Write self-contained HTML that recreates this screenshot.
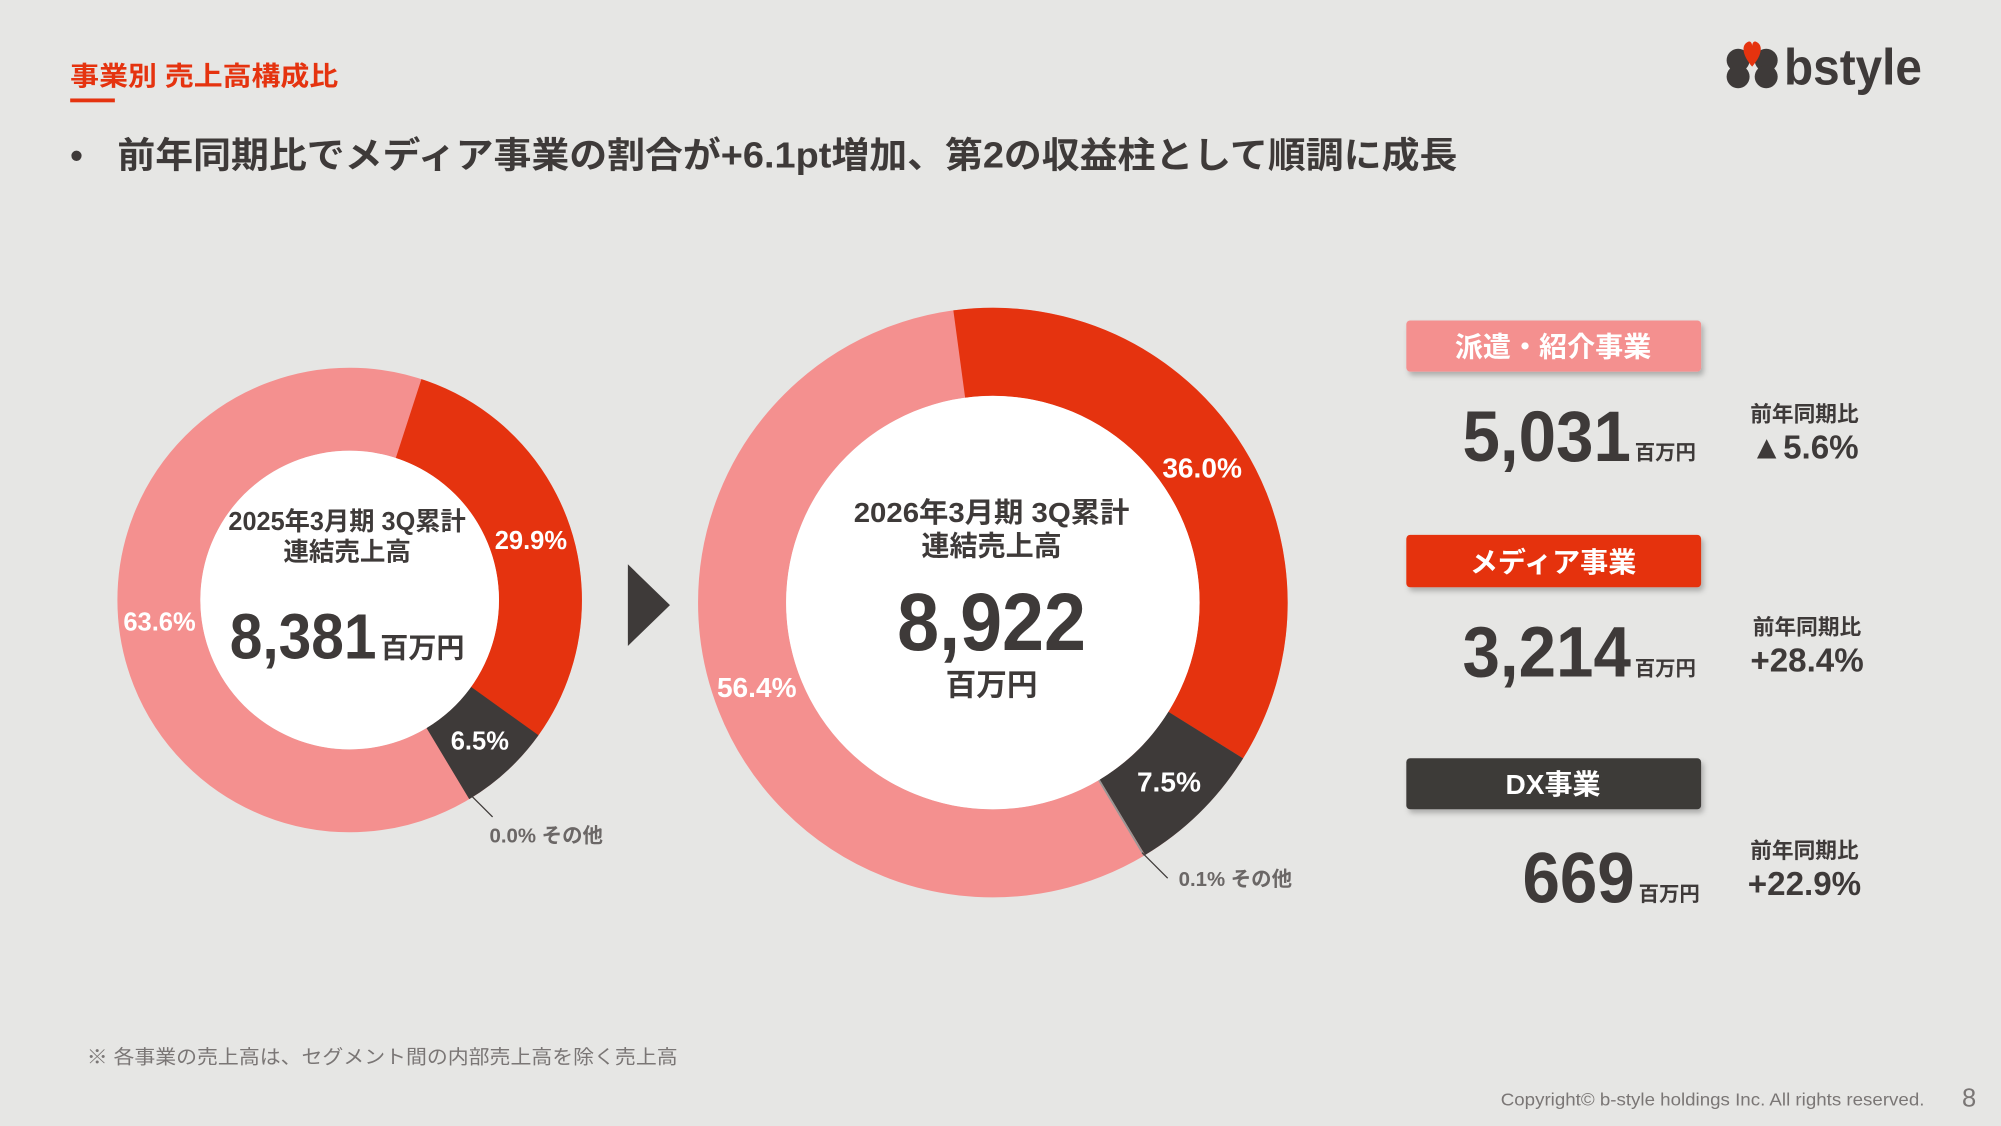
<!DOCTYPE html>
<html><head><meta charset="utf-8"><style>
html,body{margin:0;padding:0;background:#e6e6e4;}
svg{display:block;}
text{font-family:"Liberation Sans","Noto Sans CJK JP",sans-serif;}
</style></head><body>
<svg width="2001" height="1126" viewBox="0 0 1568 882" xmlns="http://www.w3.org/2000/svg">
<defs><filter id="sh" x="-5%" y="-20%" width="110%" height="150%"><feDropShadow dx="2" dy="3" stdDeviation="2" flood-color="#000" flood-opacity="0.25"/></filter></defs>
<rect width="1568" height="882" fill="#e6e6e4"/>
<text x="55" y="67" font-size="21" font-weight="bold" fill="#e5330f" textLength="210" lengthAdjust="spacingAndGlyphs">事業別 売上高構成比</text>
<rect x="55" y="77" width="35" height="3" fill="#e5330f"/>
<!-- logo -->
<g fill="#3e3a39">
<circle cx="1362" cy="47" r="9"/><circle cx="1384" cy="47" r="9"/><circle cx="1362" cy="60" r="9"/><circle cx="1384" cy="60" r="9"/>
</g>
<path d="M1373 52 C1366 44 1364 36 1369 33 C1372 31 1373 34 1373 36 C1373 34 1374 31 1377 33 C1382 36 1380 44 1373 52Z" fill="#e5330f"/>
<text x="1398" y="66" font-size="40" font-weight="bold" fill="#3e3a39" textLength="108" lengthAdjust="spacingAndGlyphs">bstyle</text>
<text x="55" y="131" font-size="28" font-weight="bold" fill="#3e3a39">•</text>
<text x="92" y="131" font-size="28" font-weight="bold" fill="#3e3a39" textLength="1050" lengthAdjust="spacingAndGlyphs">前年同期比でメディア事業の割合が+6.1pt増加、第2の収益柱として順調に成長</text>
<!-- left donut -->
<g fill="none" stroke-width="65">
<circle cx="274" cy="470" r="149.5" stroke="#f4908f"/>
<circle cx="274" cy="470" r="149.5" stroke="#e5330f" stroke-dasharray="280.9 2000" transform="rotate(-72 274 470)"/>
<circle cx="274" cy="470" r="149.5" stroke="#3e3a39" stroke-dasharray="61.1 2000" transform="rotate(35.6 274 470)"/>
</g>
<circle cx="274" cy="470" r="117" fill="#fff"/>
<text font-size="20" font-weight="bold" fill="#fff" text-anchor="middle"><tspan x="416" y="430">29.9%</tspan><tspan x="376" y="587">6.5%</tspan><tspan x="125" y="494">63.6%</tspan></text>
<line x1="370" y1="624" x2="386" y2="640" stroke="#3e3a39" stroke-width="1"/>
<text x="428" y="660" font-size="16" font-weight="bold" fill="#6b6766" text-anchor="middle">0.0% その他</text>
<text x="272" y="415" font-size="20" font-weight="bold" fill="#3e3a39" text-anchor="middle" textLength="186" lengthAdjust="spacingAndGlyphs">2025年3月期 3Q累計</text>
<text x="272" y="439" font-size="20" font-weight="bold" fill="#3e3a39" text-anchor="middle">連結売上高</text>
<text x="180" y="516" font-size="50" font-weight="bold" fill="#3e3a39" textLength="115" lengthAdjust="spacingAndGlyphs">8,381</text>
<text x="298" y="515" font-size="22" font-weight="bold" fill="#3e3a39">百万円</text>
<!-- arrow -->
<path d="M492 442 L525 474 L492 506Z" fill="#3e3a39"/>
<!-- right donut -->
<g fill="none" stroke-width="69">
<circle cx="778" cy="472" r="196.5" stroke="#f4908f"/>
<circle cx="778" cy="472" r="196.5" stroke="#e5330f" stroke-dasharray="444.5 3000" transform="rotate(-97.7 778 472)"/>
<circle cx="778" cy="472" r="196.5" stroke="#3e3a39" stroke-dasharray="92.6 3000" transform="rotate(31.9 778 472)"/>
<circle cx="778" cy="472" r="196.5" stroke="#9a9695" stroke-dasharray="1.5 3000" transform="rotate(58.9 778 472)"/>
</g>
<circle cx="778" cy="472" r="162" fill="#fff"/>
<text font-size="22" font-weight="bold" fill="#fff" text-anchor="middle"><tspan x="942" y="374">36.0%</tspan><tspan x="916" y="620">7.5%</tspan><tspan x="593" y="546">56.4%</tspan></text>
<line x1="895" y1="668" x2="915" y2="688" stroke="#3e3a39" stroke-width="1"/>
<text x="968" y="694" font-size="16" font-weight="bold" fill="#6b6766" text-anchor="middle">0.1% その他</text>
<text x="777" y="409" font-size="22" font-weight="bold" fill="#3e3a39" text-anchor="middle" textLength="216" lengthAdjust="spacingAndGlyphs">2026年3月期 3Q累計</text>
<text x="777" y="435" font-size="22" font-weight="bold" fill="#3e3a39" text-anchor="middle">連結売上高</text>
<text x="777" y="509" font-size="64" font-weight="bold" fill="#3e3a39" text-anchor="middle" textLength="148" lengthAdjust="spacingAndGlyphs">8,922</text>
<text x="777" y="545" font-size="24" font-weight="bold" fill="#3e3a39" text-anchor="middle">百万円</text>
<!-- cards -->
<rect x="1102" y="251" width="231" height="40" rx="3" fill="#f4908f" filter="url(#sh)"/>
<text x="1217" y="279" font-size="22" font-weight="bold" fill="#fff" text-anchor="middle">派遣・紹介事業</text>
<rect x="1102" y="419" width="231" height="41" rx="3" fill="#e5330f" filter="url(#sh)"/>
<text x="1217" y="448" font-size="22" font-weight="bold" fill="#fff" text-anchor="middle">メディア事業</text>
<rect x="1102" y="594" width="231" height="40" rx="3" fill="#3e3a39" filter="url(#sh)"/>
<text x="1217" y="622" font-size="22" font-weight="bold" fill="#fff" text-anchor="middle">DX事業</text>
<g fill="#3e3a39" font-weight="bold">
<text x="1146" y="361" font-size="56" textLength="132" lengthAdjust="spacingAndGlyphs">5,031</text>
<text x="1281" y="360" font-size="16">百万円</text>
<text x="1414" y="330" font-size="17" text-anchor="middle">前年同期比</text>
<text x="1414" y="359" font-size="26" text-anchor="middle">▲5.6%</text>
<text x="1146" y="530" font-size="56" textLength="132" lengthAdjust="spacingAndGlyphs">3,214</text>
<text x="1281" y="529" font-size="16">百万円</text>
<text x="1416" y="497" font-size="17" text-anchor="middle">前年同期比</text>
<text x="1416" y="526" font-size="26" text-anchor="middle">+28.4%</text>
<text x="1193" y="707" font-size="56" textLength="88" lengthAdjust="spacingAndGlyphs">669</text>
<text x="1284" y="706" font-size="16">百万円</text>
<text x="1414" y="672" font-size="17" text-anchor="middle">前年同期比</text>
<text x="1414" y="701" font-size="26" text-anchor="middle">+22.9%</text>
</g>
<text x="68" y="833" font-size="15" fill="#7a7675" textLength="463" lengthAdjust="spacingAndGlyphs">※ 各事業の売上高は、セグメント間の内部売上高を除く売上高</text>
<text x="1176" y="866" font-size="14" fill="#7a7675" textLength="332" lengthAdjust="spacingAndGlyphs">Copyright© b-style holdings Inc. All rights reserved.</text>
<text x="1543" y="867" font-size="20" fill="#7a7675" text-anchor="middle">8</text>
</svg>
</body></html>
